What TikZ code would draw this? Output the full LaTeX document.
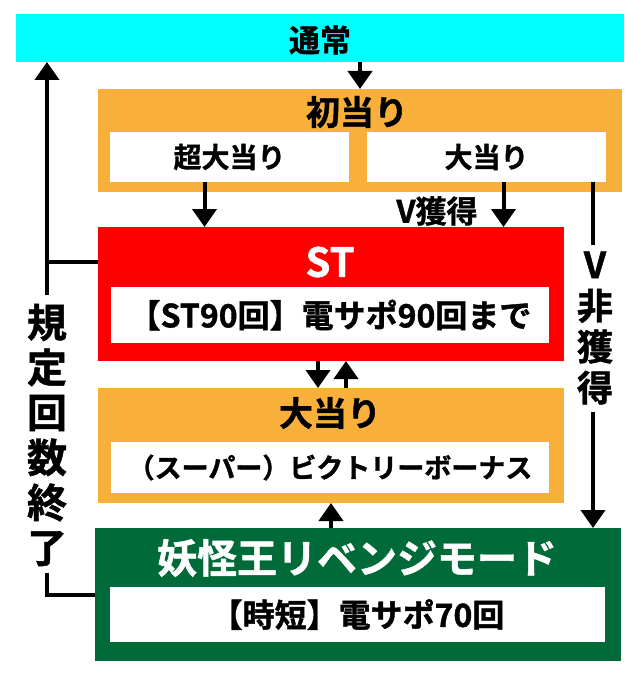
\documentclass[tikz,border=0pt]{standalone}
\usepackage{fontspec}
\setmainfont{Noto Sans CJK JP}[BoldFont={Noto Sans CJK JP Bold}, BoldFeatures={FakeBold=1.2}]
\usetikzlibrary{arrows.meta}
\definecolor{cyanbg}{HTML}{00FFFF}
\definecolor{orangebg}{HTML}{F9B03B}
\definecolor{redbg}{HTML}{FF0000}
\definecolor{greenbg}{HTML}{006A38}
\begin{document}
\begin{tikzpicture}[x=1pt,y=-1pt,
  panel/.style={anchor=north west, inner sep=0pt, outer sep=0pt},
  lbl/.style={inner sep=0pt, font=\bfseries\fontsize{#1}{#1}\selectfont},
  conn/.style={line width=4pt},
  arr/.style={line width=4pt, -{Triangle[width=24pt,length=18pt]}}]
\useasboundingbox[fill=white] (0,0) rectangle (640,679);
% boxes
\node[panel, fill=cyanbg, minimum width=608pt, minimum height=48pt] (tsujo) at (16,14) {};
\node[panel, fill=orangebg, minimum width=524pt, minimum height=103pt] (hatsu) at (98,89) {};
\node[panel, fill=white, minimum width=239pt, minimum height=50pt, lbl=28] (chou) at (110,132) {超大当り};
\node[panel, fill=white, minimum width=239pt, minimum height=50pt, lbl=28] (oa1) at (367,132) {大当り};
\node[panel, fill=redbg, minimum width=466pt, minimum height=134pt] (st) at (98,227) {};
\node[panel, fill=white, minimum width=438pt, minimum height=56pt, lbl=32] (stin) at (111,287) {【ST90回】電サポ90回まで};
\node[panel, fill=orangebg, minimum width=466pt, minimum height=115pt] (oa2) at (98,388) {};
\node[panel, fill=white, minimum width=438pt, minimum height=51pt, lbl=27] (vic) at (111,442) {（スーパー）ビクトリーボーナス};
\node[panel, fill=greenbg, minimum width=526pt, minimum height=133pt] (yokai) at (95,528) {};
\node[panel, fill=white, minimum width=495pt, minimum height=55pt, lbl=32] (jitan) at (110,587) {【時短】電サポ70回};
% titles
\node[lbl=31] (tsujot) at (320,40) {通常};
\node[lbl=34] (hatsut) at (357,112) {初当り};
\node[lbl=40, text=white] (stt) at (330,262) {ST};
\node[lbl=34] (oa2t) at (330,413) {大当り};
\node[lbl=40, text=white] (yokait) at (357,558) {妖怪王リベンジモード};
\node[lbl=31] (vget) at (437,211) {V獲得};
\node[lbl=38, align=center, font=\bfseries\fontsize{40}{45}\selectfont] (kitei) at (47,435) {規\\定\\回\\数\\終\\了};
\node[lbl=36, align=center, font=\bfseries\fontsize{36}{41}\selectfont] (vnon) at (595,328) {V\\非\\獲\\得};
% connector end points
\coordinate (kt) at (47,295);
\coordinate (kb) at (47,573);
\coordinate (vt) at (593,245);
\coordinate (vb) at (593,412);
\coordinate (gl) at (95,595);
% connectors
\draw[arr] (tsujo.south -| hatsu.north) -- (hatsu.north);
\draw[arr] ([xshift=-25pt]chou.south) -- ([xshift=-25pt]chou.south |- st.north);
\draw[arr] ([xshift=17pt]oa1.south) -- ([xshift=17pt]oa1.south |- st.north);
\draw[conn] (oa1.south -| vt) -- (vt);
\draw[arr] (vb) -- (vb |- yokai.north);
\draw[arr] ([xshift=-13pt]st.south) -- ([xshift=-13pt]st.south |- oa2.north);
\draw[arr] ([xshift=15pt]st.south |- oa2.north) -- ([xshift=15pt]st.south);
\draw[arr] (yokai.north -| oa2.south) -- (oa2.south);
\draw[arr] (kt) -- (kt |- tsujo.south);
\draw[conn] (st.west |- stt) -- (kt |- stt);
\draw[conn] (gl) -| (kb);
\end{tikzpicture}
\end{document}
